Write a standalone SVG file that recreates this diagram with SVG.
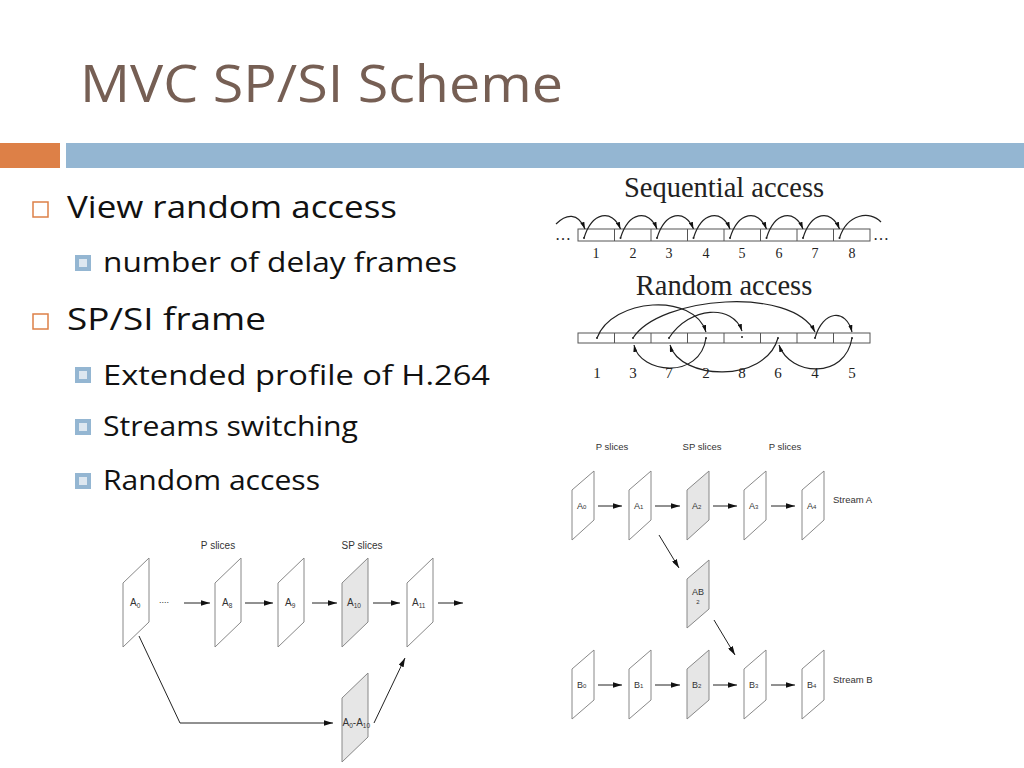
<svg xmlns="http://www.w3.org/2000/svg" width="1024" height="768" viewBox="0 0 1024 768">
<defs>
<style>
.title{font-family:"Open Sans","Liberation Sans",sans-serif;font-size:52px;fill:#765f54}
.l1{font-family:"Open Sans","Liberation Sans",sans-serif;font-size:31px;fill:#111}
.l2{font-family:"Open Sans","Liberation Sans",sans-serif;font-size:27px;fill:#111}
.ser{font-family:"Liberation Serif",serif;fill:#222}
.sm{font-family:"Liberation Sans",Arial,sans-serif;fill:#333}
.cell{fill:#fff;stroke:#555;stroke-width:1}
.arc{fill:none;stroke:#222;stroke-width:1.2}
.frame{fill:#fff;stroke:#888;stroke-width:1}
.gray{fill:#e6e6e6}
.con{fill:none;stroke:#222;stroke-width:1}
.b1{fill:none;stroke:#DD8047;stroke-width:1.5}
</style>
<marker id="ah" viewBox="0 0 10 6" refX="10" refY="3" markerWidth="9" markerHeight="5.4" markerUnits="userSpaceOnUse" orient="auto"><path d="M0,0 L10,3 L0,6 z" fill="#111"/></marker>
<marker id="as" viewBox="0 0 10 6" refX="10" refY="3" markerWidth="7" markerHeight="4.5" markerUnits="userSpaceOnUse" orient="auto"><path d="M0,0 L10,3 L0,6 z" fill="#111"/></marker>
</defs>
<rect width="1024" height="768" fill="#fff"/>

<g id="title"><text class="title" x="80" y="102" textLength="483" lengthAdjust="spacingAndGlyphs">MVC SP/SI Scheme</text></g>
<g id="bars">
<rect x="0" y="143" width="60" height="25" fill="#DD8047"/>
<rect x="66" y="143" width="958" height="25" fill="#94B6D2"/>
</g>

<g id="bullets">
<rect class="b1" x="33" y="202" width="15" height="15"/>
<text class="l1" x="67" y="218" textLength="330" lengthAdjust="spacingAndGlyphs">View random access</text>
<rect x="75" y="255" width="16" height="16" fill="#94B6D2"/><rect x="79" y="259" width="8" height="8" fill="#dde7f0"/>
<text class="l2" x="103" y="272" textLength="354" lengthAdjust="spacingAndGlyphs">number of delay frames</text>
<rect class="b1" x="33" y="314" width="15" height="15"/>
<text class="l1" x="67" y="330" textLength="199" lengthAdjust="spacingAndGlyphs">SP/SI frame</text>
<rect x="75" y="367" width="16" height="16" fill="#94B6D2"/><rect x="79" y="371" width="8" height="8" fill="#dde7f0"/>
<text class="l2" x="103" y="385" textLength="387" lengthAdjust="spacingAndGlyphs">Extended profile of H.264</text>
<rect x="75" y="419" width="16" height="16" fill="#94B6D2"/><rect x="79" y="423" width="8" height="8" fill="#dde7f0"/>
<text class="l2" x="103" y="436" textLength="255" lengthAdjust="spacingAndGlyphs">Streams switching</text>
<rect x="75" y="473" width="16" height="16" fill="#94B6D2"/><rect x="79" y="477" width="8" height="8" fill="#dde7f0"/>
<text class="l2" x="103" y="490" textLength="217" lengthAdjust="spacingAndGlyphs">Random access</text>
</g>

<g id="sequential">
<text class="ser" x="724" y="197" font-size="28.5" text-anchor="middle">Sequential access</text>
<rect class="cell" x="578" y="229" width="292" height="12"/>
<path class="cell" d="M614.5,229V241M651,229V241M687.5,229V241M724,229V241M760.5,229V241M797,229V241M833.5,229V241"/>
<text class="ser" x="555" y="240" font-size="16">…</text>
<text class="ser" x="873" y="240" font-size="16">…</text>
<g fill="#222"><circle cx="584" cy="238" r="1"/><circle cx="620.5" cy="238" r="1"/><circle cx="657" cy="238" r="1"/><circle cx="693.5" cy="238" r="1"/><circle cx="730" cy="238" r="1"/><circle cx="766.5" cy="238" r="1"/><circle cx="803" cy="238" r="1"/><circle cx="839.5" cy="238" r="1"/></g>
<g class="ser" font-size="14" text-anchor="middle">
<text x="596" y="258">1</text><text x="633" y="258">2</text><text x="669" y="258">3</text><text x="706" y="258">4</text><text x="742" y="258">5</text><text x="779" y="258">6</text><text x="815" y="258">7</text><text x="852" y="258">8</text>
</g>
<g id="seq-arcs">
<path class="arc" stroke="#aaa" d="M556,224 C566,214 578,212 585,229" marker-end="url(#as)"/>
<path class="arc" d="M584,238 C592,212 612,208 620.5,229" marker-end="url(#as)"/>
<path class="arc" d="M620.5,238 C628.5,212 648.5,208 657,229" marker-end="url(#as)"/>
<path class="arc" d="M657,238 C665,212 685,208 693.5,229" marker-end="url(#as)"/>
<path class="arc" d="M693.5,238 C701.5,212 721.5,208 730,229" marker-end="url(#as)"/>
<path class="arc" d="M730,238 C738,212 758,208 766.5,229" marker-end="url(#as)"/>
<path class="arc" d="M766.5,238 C774.5,212 794.5,208 803,229" marker-end="url(#as)"/>
<path class="arc" d="M803,238 C811,212 831,208 839.5,229" marker-end="url(#as)"/>
<path class="arc" d="M839.5,238 C847,214 870,210 881,222" stroke="#999"/>
</g>
</g>

<g id="random">
<text class="ser" x="724" y="295" font-size="28.5" text-anchor="middle">Random access</text>
<rect class="cell" x="578" y="333" width="292" height="10"/>
<path class="cell" d="M614.5,333V343M651,333V343M687.5,333V343M724,333V343M760.5,333V343M797,333V343M833.5,333V343"/>
<g fill="#222"><circle cx="597" cy="338" r="1"/><circle cx="633" cy="338" r="1"/><circle cx="669" cy="338" r="1"/><circle cx="706" cy="338" r="1"/><circle cx="742" cy="337" r="1"/><circle cx="778" cy="338" r="1"/><circle cx="815" cy="338" r="1"/><circle cx="852" cy="338" r="1"/></g>
<g class="ser" font-size="15" text-anchor="middle">
<text x="597" y="378">1</text><text x="633" y="378">3</text><text x="669" y="378">7</text><text x="706" y="378">2</text><text x="742" y="378">8</text><text x="778" y="378">6</text><text x="815" y="378">4</text><text x="852" y="378">5</text>
</g>
<g id="rnd-arcs">
<path class="arc" d="M597,338 C612,298 694,292 706,332" marker-end="url(#as)"/>
<path class="arc" d="M633,338 C660,296 792,286 815,332" marker-end="url(#as)"/>
<path class="arc" d="M669,338 C690,306 733,304 742,331" marker-end="url(#as)"/>
<path class="arc" d="M815,338 C823,310 846,308 852,332" marker-end="url(#as)"/>
<path class="arc" d="M706,338 C700,380 640,374 634,345" marker-end="url(#as)"/>
<path class="arc" d="M778,338 C765,384 680,380 670,345" marker-end="url(#as)"/>
<path class="arc" d="M852,338 C845,380 790,376 779,345" marker-end="url(#as)"/>
</g>
</g>

<g id="diagram-left">
<text class="sm" x="218" y="549" font-size="10" text-anchor="middle">P slices</text>
<text class="sm" x="362" y="549" font-size="10" text-anchor="middle">SP slices</text>
<g id="L-A0"><polygon class="frame" points="123,583 149,558 149,622 123,647"/><text class="sm" x="130" y="606" font-size="10">A<tspan font-size="6.5" dy="2">0</tspan></text></g>
<g id="L-A8"><polygon class="frame" points="215,583 241,558 241,622 215,647"/><text class="sm" x="222" y="606" font-size="10">A<tspan font-size="6.5" dy="2">8</tspan></text></g>
<g id="L-A9"><polygon class="frame" points="278,583 304,558 304,622 278,647"/><text class="sm" x="285" y="606" font-size="10">A<tspan font-size="6.5" dy="2">9</tspan></text></g>
<g id="L-A10"><polygon class="frame gray" points="342,583 368,558 368,622 342,647"/><text class="sm" x="347" y="606" font-size="10">A<tspan font-size="6.5" dy="2">10</tspan></text></g>
<g id="L-A11"><polygon class="frame" points="407,583 433,558 433,622 407,647"/><text class="sm" x="412" y="606" font-size="10">A<tspan font-size="6.5" dy="2">11</tspan></text></g>
<g id="L-A0A10"><polygon class="frame gray" points="342,698 368,673 368,737 342,762"/><text class="sm" x="342.5" y="726" font-size="10">A<tspan font-size="6.5" dy="2">0</tspan><tspan dy="-2">-A</tspan><tspan font-size="6.5" dy="2">10</tspan></text></g>
<text class="sm" x="159" y="603" font-size="9" fill="#666">....</text>
<g id="L-connectors">
<path class="con" d="M184,603H210" marker-end="url(#ah)"/>
<path class="con" d="M245,603H273" marker-end="url(#ah)"/>
<path class="con" d="M312,603H337" marker-end="url(#ah)"/>
<path class="con" d="M373,603H400" marker-end="url(#ah)"/>
<path class="con" d="M438,603H463" marker-end="url(#ah)"/>
<path class="con" stroke="#555" d="M139,636 L180,723 H333" marker-end="url(#ah)"/>
<path class="con" stroke="#555" d="M374,723 L405,658" marker-end="url(#ah)"/>
</g>
</g>

<g id="diagram-right">
<text class="sm" x="612" y="450" font-size="9.5" text-anchor="middle">P slices</text>
<text class="sm" x="702" y="450" font-size="9.5" text-anchor="middle">SP slices</text>
<text class="sm" x="785" y="450" font-size="9.5" text-anchor="middle">P slices</text>
<g id="R-A0"><polygon class="frame" points="572,490 594,471 594,520 572,540"/><text class="sm" x="577" y="509" font-size="9">A<tspan font-size="6">0</tspan></text></g>
<g id="R-A1"><polygon class="frame" points="629,490 651,471 651,520 629,540"/><text class="sm" x="634" y="509" font-size="9">A<tspan font-size="6">1</tspan></text></g>
<g id="R-A2"><polygon class="frame gray" points="687,490 709,471 709,520 687,540"/><text class="sm" x="692" y="509" font-size="9">A<tspan font-size="6">2</tspan></text></g>
<g id="R-A3"><polygon class="frame" points="744,490 766,471 766,520 744,540"/><text class="sm" x="749" y="509" font-size="9">A<tspan font-size="6">3</tspan></text></g>
<g id="R-A4"><polygon class="frame" points="802,490 824,471 824,520 802,540"/><text class="sm" x="807" y="509" font-size="9">A<tspan font-size="6">4</tspan></text></g>
<text class="sm" x="833" y="503" font-size="9.5">Stream A</text>
<g id="R-AB2"><polygon class="frame gray" points="687,579 709,560 709,609 687,628"/><text class="sm" x="698" y="595" font-size="9" text-anchor="middle">AB</text><text class="sm" x="698" y="604" font-size="6" text-anchor="middle">2</text></g>
<g id="R-B0"><polygon class="frame" points="572,669 594,650 594,700 572,719"/><text class="sm" x="577" y="688" font-size="9">B<tspan font-size="6">0</tspan></text></g>
<g id="R-B1"><polygon class="frame" points="629,669 651,650 651,700 629,719"/><text class="sm" x="634" y="688" font-size="9">B<tspan font-size="6">1</tspan></text></g>
<g id="R-B2"><polygon class="frame gray" points="687,669 709,650 709,700 687,719"/><text class="sm" x="692" y="688" font-size="9">B<tspan font-size="6">2</tspan></text></g>
<g id="R-B3"><polygon class="frame" points="744,669 766,650 766,700 744,719"/><text class="sm" x="749" y="688" font-size="9">B<tspan font-size="6">3</tspan></text></g>
<g id="R-B4"><polygon class="frame" points="802,669 824,650 824,700 802,719"/><text class="sm" x="807" y="688" font-size="9">B<tspan font-size="6">4</tspan></text></g>
<text class="sm" x="833" y="683" font-size="9.5">Stream B</text>
<g id="R-connectors">
<path class="con" d="M598,506H622" marker-end="url(#ah)"/>
<path class="con" d="M655,506H680" marker-end="url(#ah)"/>
<path class="con" d="M713,506H737" marker-end="url(#ah)"/>
<path class="con" d="M771,506H795" marker-end="url(#ah)"/>
<path class="con" d="M598,685H622" marker-end="url(#ah)"/>
<path class="con" d="M655,685H680" marker-end="url(#ah)"/>
<path class="con" d="M713,685H737" marker-end="url(#ah)"/>
<path class="con" d="M771,685H795" marker-end="url(#ah)"/>
<path class="con" stroke="#444" d="M659,535L679,568" marker-end="url(#ah)"/>
<path class="con" stroke="#444" d="M714,620L735,655" marker-end="url(#ah)"/>
</g>
</g>
</svg>
